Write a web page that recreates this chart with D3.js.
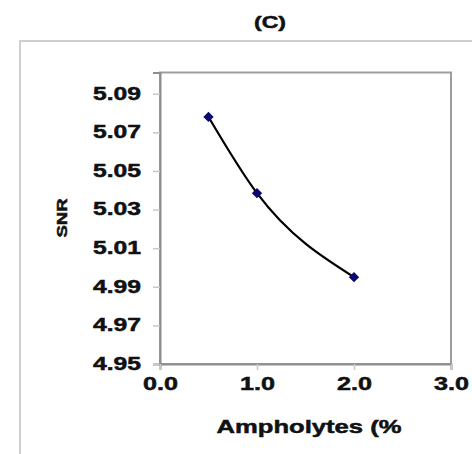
<!DOCTYPE html>
<html><head><meta charset="utf-8">
<script src="https://cdn.jsdelivr.net/npm/d3@7"></script>
<style>html,body{margin:0;padding:0;background:#fff;}svg{display:block;}</style>
</head><body>
<script>
const title = "(C)";
const xLabel = "Ampholytes (%";
const yLabel = "SNR";
const ampholytes = [0.5, 1.0, 2.0];
const snr = [5.078, 5.0385, 4.995];
const xTicks = [0, 1, 2, 3];
const yTicks = [4.95, 4.97, 4.99, 5.01, 5.03, 5.05, 5.07, 5.09];

const W = 472, H = 454;
const svg = d3.select("body").append("svg").attr("width", W).attr("height", H);
svg.append("rect").attr("width", W).attr("height", H).attr("fill", "#fff");

// outer chart area border
svg.append("path").attr("d", `M20,${H} L20,41 L${W},41`)
  .attr("fill", "none").attr("stroke", "#cfcfcf").attr("stroke-width", 2);

const pLeft = 160, pRight = 451, pTop = 72.5, pBottom = 364;
const x = d3.scaleLinear().domain([0, 3]).range([pLeft, pRight]);
const y = d3.scaleLinear().domain([4.95, 5.101]).range([pBottom, pTop]);

const font = "'Liberation Sans', Arial, sans-serif";
function boldify(sel) {
  return sel.attr("font-family", font).attr("font-weight", "bold").attr("fill", "#111")
    .attr("stroke", "#111").attr("stroke-width", 0.5).attr("lengthAdjust", "spacingAndGlyphs");
}

// title
svg.append("text").attr("x", 270).attr("y", 27.5).attr("text-anchor", "middle")
  .call(boldify).attr("font-size", 17).attr("textLength", 32).text(title);

// plot border
svg.append("rect").attr("x", pLeft).attr("y", pTop).attr("width", pRight - pLeft).attr("height", pBottom - pTop)
  .attr("fill", "#fff").attr("stroke", "#9a9f9c").attr("stroke-width", 2);

// y axis
const yAxis = svg.append("g").attr("transform", `translate(${pLeft},0)`)
  .call(d3.axisLeft(y).tickValues(yTicks).tickFormat(d3.format(".2f")).tickSize(7).tickPadding(12));
yAxis.select(".domain").attr("stroke", "#8a8f8c").attr("stroke-width", 2);
yAxis.selectAll(".tick line").attr("stroke", "#c8c8c8").attr("stroke-width", 1.5);
yAxis.selectAll(".tick text").call(boldify).attr("font-size", 18).attr("textLength", 48).attr("dy", "0.3em");

// x axis
const xAxis = svg.append("g").attr("transform", `translate(0,${pBottom})`)
  .call(d3.axisBottom(x).tickValues(xTicks).tickFormat(d3.format(".1f")).tickSize(6).tickPadding(7));
xAxis.select(".domain").attr("stroke", "#8a8f8c").attr("stroke-width", 2);
xAxis.selectAll(".tick line").attr("stroke", "#c8c8c8").attr("stroke-width", 1.5);
xAxis.selectAll(".tick text").call(boldify).attr("font-size", 18).attr("textLength", 35);

// axis labels
svg.append("text").attr("x", 309).attr("y", 433).attr("text-anchor", "middle")
  .call(boldify).attr("font-size", 19).attr("textLength", 185).text(xLabel);
svg.append("text").attr("transform", "translate(67,218) rotate(-90)").attr("text-anchor", "middle")
  .call(boldify).attr("font-size", 14).attr("textLength", 39).text(yLabel);

// data
const data = ampholytes.map((a, i) => ({a, s: snr[i]}));
const line = d3.line().x(d => x(d.a)).y(d => y(d.s)).curve(d3.curveMonotoneX);
svg.append("path").datum(data).attr("d", line).attr("fill", "none")
  .attr("stroke", "#000").attr("stroke-width", 2.2);
svg.selectAll(".pt").data(data).enter().append("path").attr("class", "pt")
  .attr("transform", d => `translate(${x(d.a)},${y(d.s)})`)
  .attr("d", d3.symbol().type(d3.symbolDiamond2).size(68))
  .attr("fill", "#0a0a6e");
</script>
</body></html>
